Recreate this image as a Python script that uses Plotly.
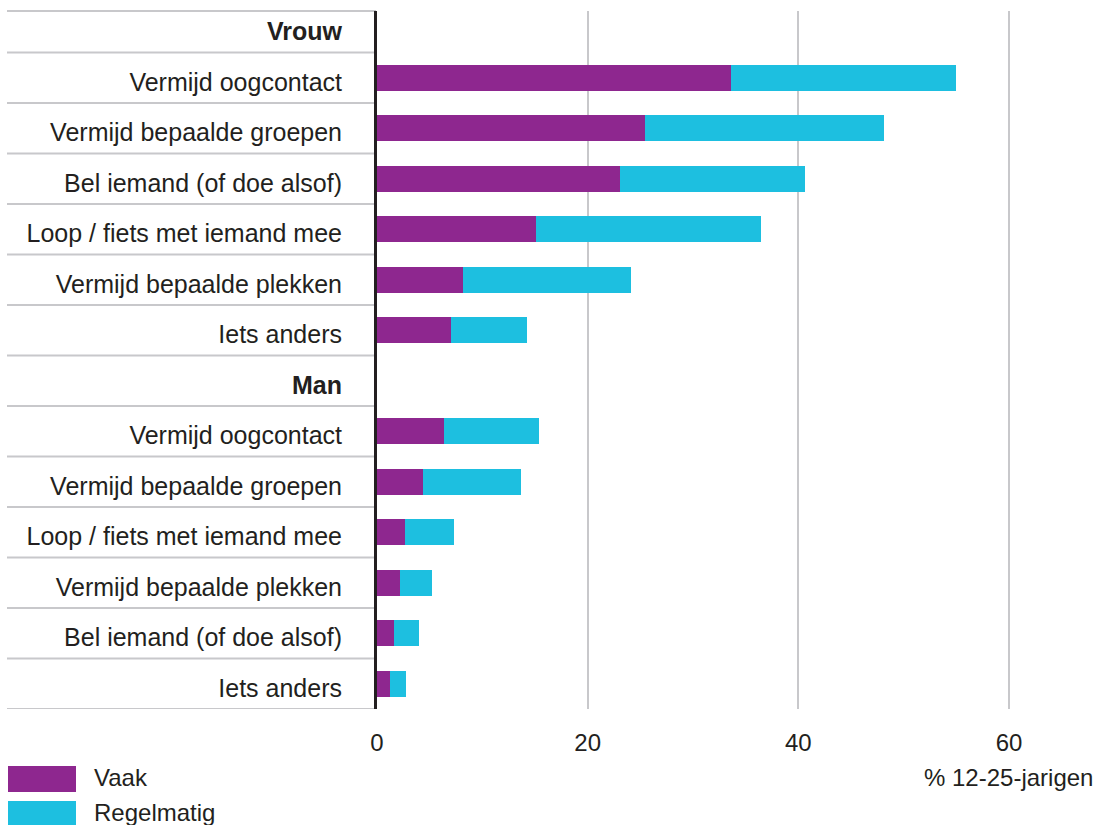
import plotly.graph_objects as go

# ---- data ----
labels = ["Vrouw", "Vermijd oogcontact", "Vermijd bepaalde groepen", "Bel iemand (of doe alsof)",
          "Loop / fiets met iemand mee", "Vermijd bepaalde plekken", "Iets anders",
          "Man", "Vermijd oogcontact", "Vermijd bepaalde groepen", "Loop / fiets met iemand mee",
          "Vermijd bepaalde plekken", "Bel iemand (of doe alsof)", "Iets anders"]
header_rows = [0, 7]
vaak = [None, 33.6, 25.4, 23.1, 15.1, 8.2, 7.0,
        None, 6.4, 4.4, 2.7, 2.2, 1.6, 1.2]
regelmatig = [None, 21.4, 22.7, 17.5, 21.4, 15.9, 7.2,
              None, 9.0, 9.3, 4.6, 3.0, 2.4, 1.6]
series_names = ["Vaak", "Regelmatig"]
x_ticks = [0, 20, 40, 60]
x_title = "% 12-25-jarigen"

# ---- style ----
PURPLE = "#8e278f"
CYAN = "#1dbfe0"
TEXT = "#231f20"
GRID = "#c8c8cb"
FONT = "Liberation Sans, Arial, sans-serif"

W, H = 1096, 825
ML, MR, MT, MB = 377, 0, 11, 116
PW = W - ML - MR
PH = H - MT - MB
ROW = 50.5
LABEL_SHIFT = 4 / ROW  # labels sit a few px below row centre

ypos = list(range(len(labels)))
tickpos = [p + LABEL_SHIFT for p in ypos]
ticktext = [f"<b>{l}</b>" if i in header_rows else l for i, l in enumerate(labels)]

fig = go.Figure()
for name, vals, col in [(series_names[0], vaak, PURPLE), (series_names[1], regelmatig, CYAN)]:
    fig.add_trace(go.Bar(
        x=vals, y=ypos, orientation="h", name=name,
        marker=dict(color=col, line=dict(width=0)),
        width=0.51, showlegend=False,
    ))

n = len(labels)
y_bottom = n - 0.5
y_top = y_bottom - PH / ROW


def px_to_paper_x(px):
    return (px - ML) / PW


def px_to_paper_y(py):
    return (H - MB - py) / PH


shapes = []
# row separators in the label area
shapes.append(dict(type="line", xref="paper", yref="paper",
                   x0=px_to_paper_x(7), x1=px_to_paper_x(376), y0=1, y1=1,
                   line=dict(color=GRID, width=2), layer="below"))
for k in range(n):
    shapes.append(dict(type="line", xref="paper", yref="y",
                       x0=px_to_paper_x(7), x1=px_to_paper_x(376), y0=k + 0.5, y1=k + 0.5,
                       line=dict(color=GRID, width=2), layer="below"))

# legend swatches + labels
leg_items = [(series_names[0], PURPLE, 766, 792), (series_names[1], CYAN, 801, 827)]
annotations = []
for name, col, ya, yb in leg_items:
    shapes.append(dict(type="rect", xref="paper", yref="paper",
                       x0=px_to_paper_x(8), x1=px_to_paper_x(76),
                       y0=px_to_paper_y(yb), y1=px_to_paper_y(ya),
                       fillcolor=col, line=dict(width=0)))
    annotations.append(dict(xref="paper", yref="paper", x=px_to_paper_x(92),
                            y=px_to_paper_y((ya + yb) / 2 - 2), text=name, showarrow=False,
                            xanchor="left", yanchor="middle",
                            font=dict(size=24, color=TEXT, family=FONT)))

annotations.append(dict(xref="paper", yref="paper", x=px_to_paper_x(1095),
                        y=px_to_paper_y(777), text=x_title, showarrow=False,
                        xanchor="right", yanchor="middle",
                        font=dict(size=24, color=TEXT, family=FONT)))

fig.update_layout(
    width=W, height=H,
    margin=dict(l=ML, r=MR, t=MT, b=MB, pad=0),
    paper_bgcolor="white", plot_bgcolor="white",
    barmode="stack", bargap=0,
    font=dict(family=FONT, size=24, color=TEXT),
    shapes=shapes, annotations=annotations,
    xaxis=dict(range=[0, (W - ML) / ((1009 - 377) / 60)], tickvals=x_ticks,
               showgrid=True, gridcolor=GRID, gridwidth=2, zeroline=False,
               showline=False, ticks="", ticklabelstandoff=17,
               tickfont=dict(size=24, color=TEXT, family=FONT), fixedrange=True),
    yaxis=dict(range=[y_bottom, y_top], tickvals=tickpos, ticktext=ticktext,
               showgrid=False, zeroline=False, showline=True, linecolor=TEXT,
               linewidth=3, ticks="", ticklabelstandoff=27,
               tickfont=dict(size=25, color=TEXT, family=FONT), fixedrange=True),
)

fig.write_html("out.html", config={"displayModeBar": False},
               post_script="document.body.style.margin='0px';document.body.style.overflow='hidden';")
